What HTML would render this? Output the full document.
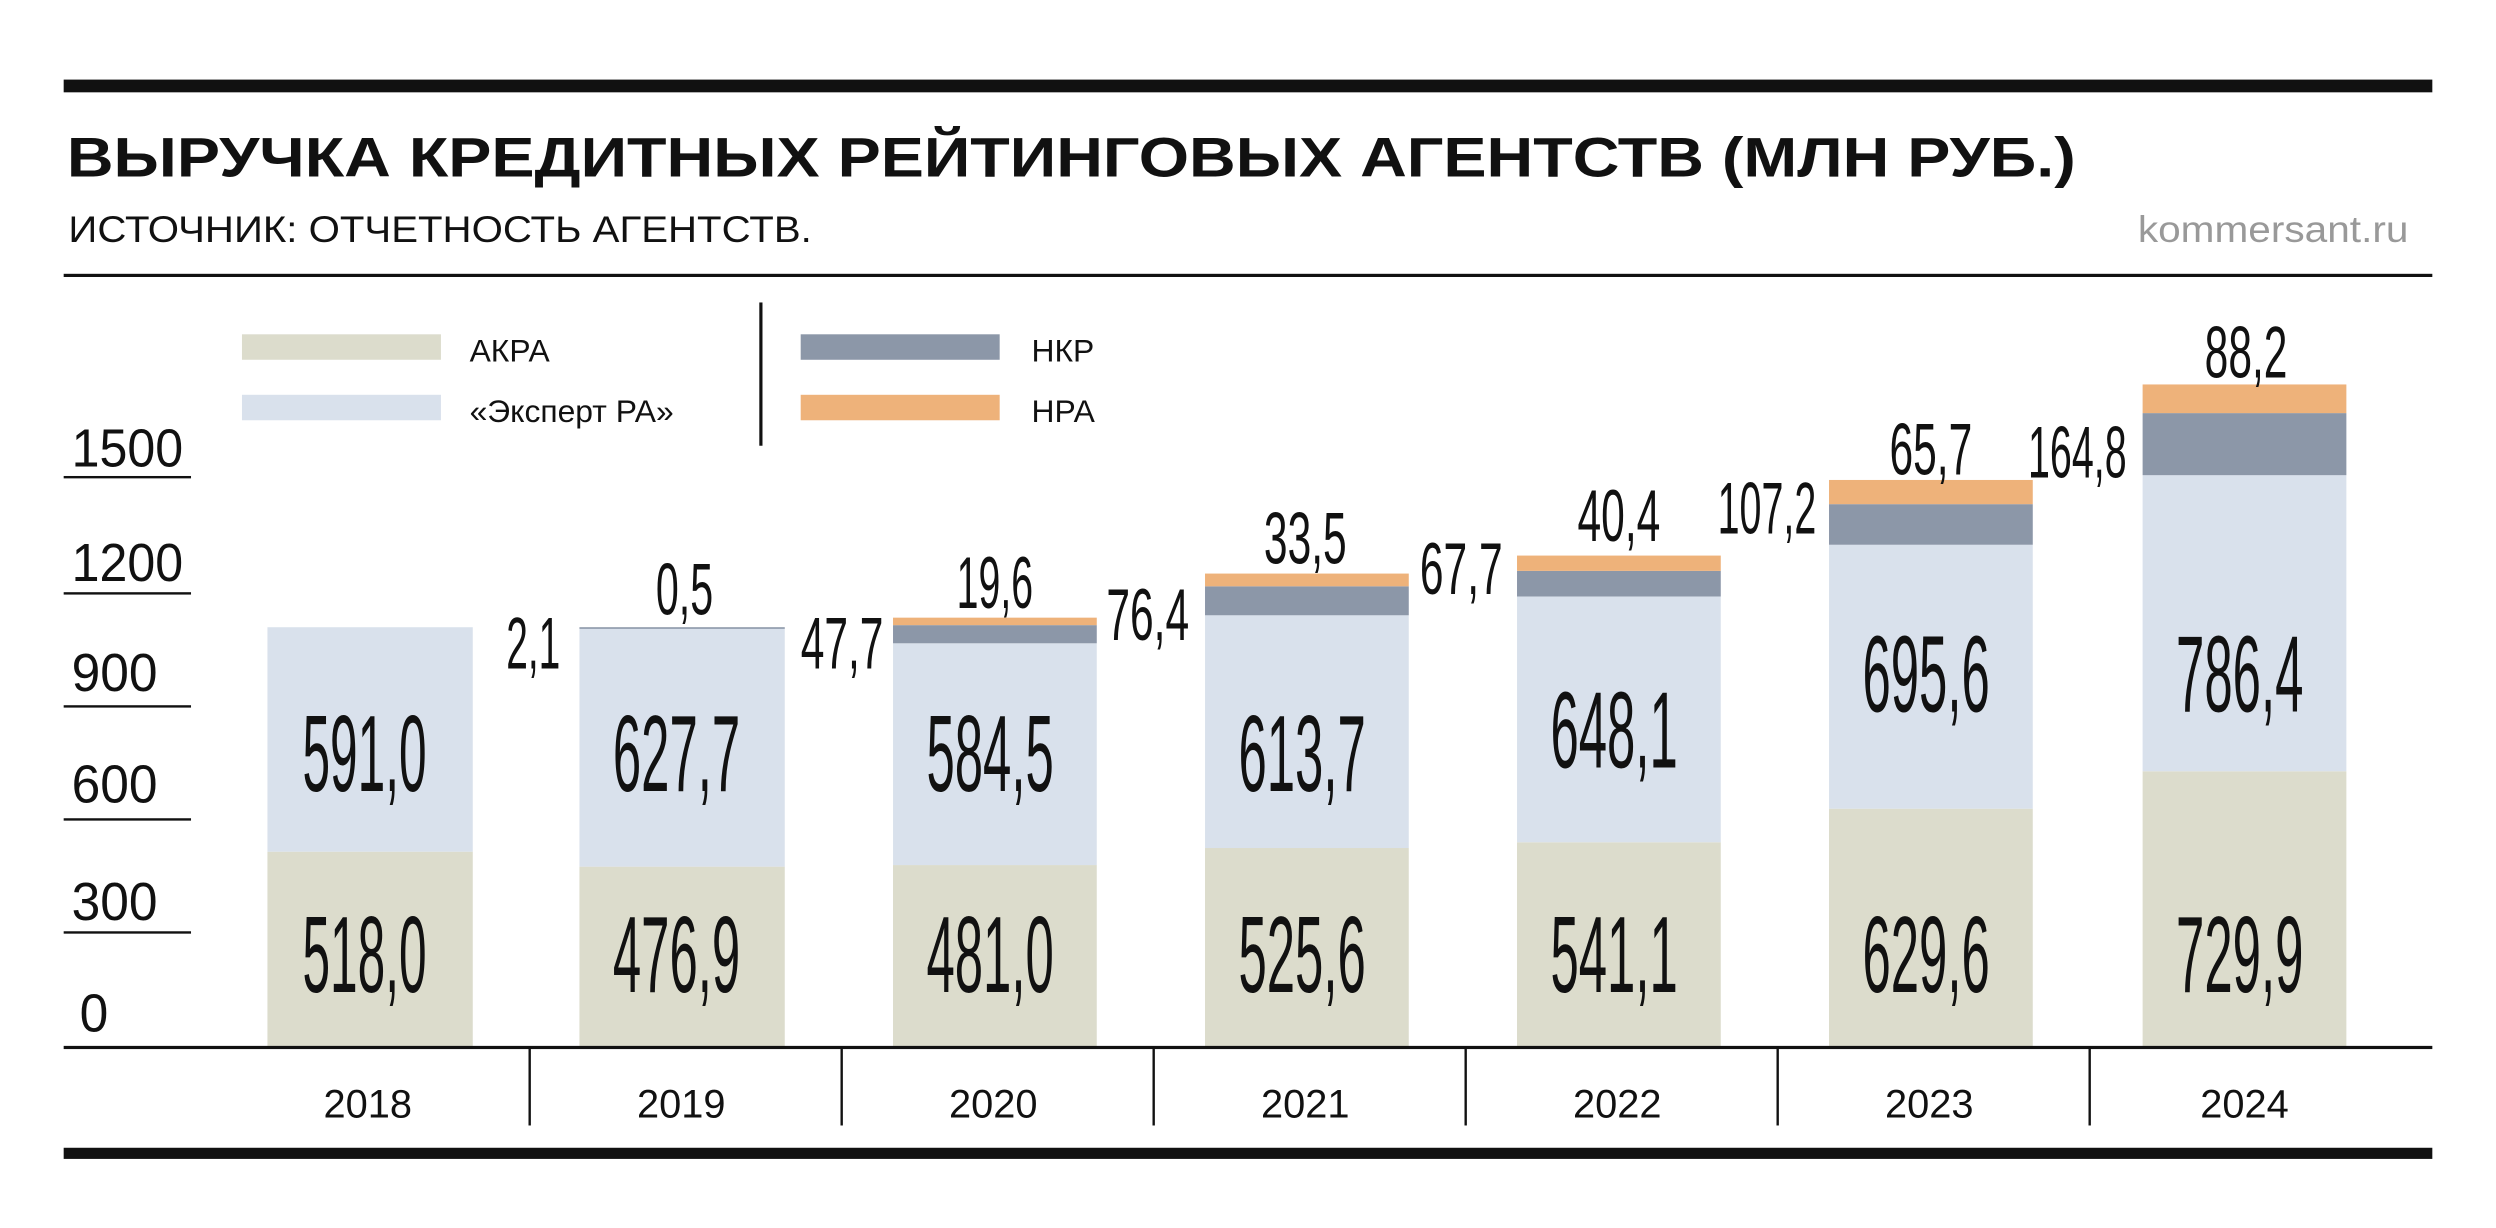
<!DOCTYPE html>
<html><head><meta charset="utf-8"><style>
html,body{margin:0;padding:0;background:#fff;}
svg{display:block;}
text{font-family:"Liberation Sans","DejaVu Sans",sans-serif;fill:#111;}
</style></head><body>
<svg width="2496" height="1228" viewBox="0 0 1568 771.4" preserveAspectRatio="none" xmlns="http://www.w3.org/2000/svg">
<rect x="0" y="0" width="1568" height="772" fill="#fff"/>
<rect x="40" y="50" width="1488" height="8" fill="#111"/>
<text x="42" y="111" font-size="35" font-weight="bold" textLength="1262" lengthAdjust="spacingAndGlyphs">ВЫРУЧКА КРЕДИТНЫХ РЕЙТИНГОВЫХ АГЕНТСТВ (МЛН РУБ.)</text>
<text x="43" y="152" font-size="23" textLength="467" lengthAdjust="spacingAndGlyphs">ИСТОЧНИК: ОТЧЕТНОСТЬ АГЕНТСТВ.</text>
<text x="1513" y="152" font-size="23" text-anchor="end" style="fill:#999" textLength="170" lengthAdjust="spacingAndGlyphs">kommersant.ru</text>
<rect x="40" y="172" width="1488" height="2" fill="#111"/>

<!-- legend -->
<rect x="152" y="210" width="125" height="16" fill="#dcdccc"/>
<text x="295" y="227" font-size="20">АКРА</text>
<rect x="152" y="248" width="125" height="16" fill="#d9e1ec"/>
<text x="295" y="265" font-size="20">«Эксперт РА»</text>
<rect x="477" y="190" width="2" height="90" fill="#111"/>
<rect x="503" y="210" width="125" height="16" fill="#8c97a8"/>
<text x="648" y="227" font-size="20">НКР</text>
<rect x="503" y="248" width="125" height="16" fill="#eeb27a"/>
<text x="648" y="265" font-size="20">НРА</text>

<!-- y axis -->
<g fill="#111">
<rect x="40" y="299" width="80" height="1.5"/>
<rect x="40" y="372" width="80" height="1.5"/>
<rect x="40" y="443" width="80" height="1.5"/>
<rect x="40" y="514" width="80" height="1.5"/>
<rect x="40" y="585" width="80" height="1.5"/>
</g>
<g font-size="34">
<text x="45" y="293" textLength="70" lengthAdjust="spacingAndGlyphs">1500</text>
<text x="45" y="365" textLength="70" lengthAdjust="spacingAndGlyphs">1200</text>
<text x="45" y="434" textLength="54" lengthAdjust="spacingAndGlyphs">900</text>
<text x="45" y="504" textLength="54" lengthAdjust="spacingAndGlyphs">600</text>
<text x="45" y="578" textLength="54" lengthAdjust="spacingAndGlyphs">300</text>
<text x="50" y="648" textLength="18" lengthAdjust="spacingAndGlyphs">0</text>
</g>

<!-- bars -->
<g>
<rect x="168" y="535" width="129" height="123" fill="#dcdccc"/>
<rect x="168" y="394" width="129" height="141" fill="#d9e1ec"/>

<rect x="364" y="544.4" width="129" height="113.6" fill="#dcdccc"/>
<rect x="364" y="394.8" width="129" height="149.6" fill="#d9e1ec"/>
<rect x="364" y="394" width="129" height="1" fill="#8c97a8"/>

<rect x="561" y="543.4" width="128" height="114.6" fill="#dcdccc"/>
<rect x="561" y="404.1" width="128" height="139.3" fill="#d9e1ec"/>
<rect x="561" y="392.7" width="128" height="11.4" fill="#8c97a8"/>
<rect x="561" y="388" width="128" height="4.7" fill="#eeb27a"/>

<rect x="757" y="532.7" width="128" height="125.3" fill="#dcdccc"/>
<rect x="757" y="386.5" width="128" height="146.2" fill="#d9e1ec"/>
<rect x="757" y="368.3" width="128" height="18.2" fill="#8c97a8"/>
<rect x="757" y="360.3" width="128" height="8" fill="#eeb27a"/>

<rect x="953" y="529.1" width="128" height="128.9" fill="#dcdccc"/>
<rect x="953" y="374.7" width="128" height="154.4" fill="#d9e1ec"/>
<rect x="953" y="358.6" width="128" height="16.1" fill="#8c97a8"/>
<rect x="953" y="349" width="128" height="9.6" fill="#eeb27a"/>

<rect x="1149" y="508" width="128" height="150" fill="#dcdccc"/>
<rect x="1149" y="342.2" width="128" height="165.8" fill="#d9e1ec"/>
<rect x="1149" y="316.7" width="128" height="25.5" fill="#8c97a8"/>
<rect x="1149" y="301.5" width="128" height="15.2" fill="#eeb27a"/>

<rect x="1346" y="484.5" width="128" height="173.5" fill="#dcdccc"/>
<rect x="1346" y="298.5" width="128" height="186" fill="#d9e1ec"/>
<rect x="1346" y="259.5" width="128" height="39" fill="#8c97a8"/>
<rect x="1346" y="241.5" width="128" height="18" fill="#eeb27a"/>
</g>

<!-- inner labels -->
<g font-size="68" text-anchor="middle">
<text x="229" y="497" textLength="78" lengthAdjust="spacingAndGlyphs">591,0</text>
<text x="229" y="623" textLength="78" lengthAdjust="spacingAndGlyphs">518,0</text>
<text x="425" y="497" textLength="80" lengthAdjust="spacingAndGlyphs">627,7</text>
<text x="425" y="623" textLength="80" lengthAdjust="spacingAndGlyphs">476,9</text>
<text x="622" y="497" textLength="80" lengthAdjust="spacingAndGlyphs">584,5</text>
<text x="622" y="623" textLength="80" lengthAdjust="spacingAndGlyphs">481,0</text>
<text x="818" y="497" textLength="80" lengthAdjust="spacingAndGlyphs">613,7</text>
<text x="818" y="623" textLength="80" lengthAdjust="spacingAndGlyphs">525,6</text>
<text x="1014" y="482" textLength="80" lengthAdjust="spacingAndGlyphs">648,1</text>
<text x="1014" y="623" textLength="80" lengthAdjust="spacingAndGlyphs">541,1</text>
<text x="1210" y="447" textLength="80" lengthAdjust="spacingAndGlyphs">695,6</text>
<text x="1210" y="623" textLength="80" lengthAdjust="spacingAndGlyphs">629,6</text>
<text x="1407" y="447" textLength="80" lengthAdjust="spacingAndGlyphs">786,4</text>
<text x="1407" y="623" textLength="80" lengthAdjust="spacingAndGlyphs">729,9</text>
</g>

<!-- outside labels -->
<g font-size="46" text-anchor="middle">
<text x="335" y="420" textLength="34" lengthAdjust="spacingAndGlyphs">2,1</text>
<text x="430" y="386" textLength="36" lengthAdjust="spacingAndGlyphs">0,5</text>
<text x="529" y="420" textLength="52" lengthAdjust="spacingAndGlyphs">47,7</text>
<text x="625" y="382" textLength="48" lengthAdjust="spacingAndGlyphs">19,6</text>
<text x="721" y="402" textLength="52" lengthAdjust="spacingAndGlyphs">76,4</text>
<text x="820" y="354" textLength="52" lengthAdjust="spacingAndGlyphs">33,5</text>
<text x="918" y="373" textLength="52" lengthAdjust="spacingAndGlyphs">67,7</text>
<text x="1017" y="340" textLength="52" lengthAdjust="spacingAndGlyphs">40,4</text>
<text x="1110" y="335" textLength="62" lengthAdjust="spacingAndGlyphs">107,2</text>
<text x="1213" y="298" textLength="52" lengthAdjust="spacingAndGlyphs">65,7</text>
<text x="1305" y="300" textLength="62" lengthAdjust="spacingAndGlyphs">164,8</text>
<text x="1411" y="237" textLength="52" lengthAdjust="spacingAndGlyphs">88,2</text>
</g>

<!-- x axis -->
<rect x="40" y="657" width="1488" height="2" fill="#111"/>
<g fill="#111">
<rect x="332" y="658" width="1.5" height="49"/>
<rect x="528" y="658" width="1.5" height="49"/>
<rect x="724" y="658" width="1.5" height="49"/>
<rect x="920" y="658" width="1.5" height="49"/>
<rect x="1116" y="658" width="1.5" height="49"/>
<rect x="1312" y="658" width="1.5" height="49"/>
</g>
<g font-size="25" text-anchor="middle">
<text x="231" y="702">2018</text>
<text x="428" y="702">2019</text>
<text x="624" y="702">2020</text>
<text x="820" y="702">2021</text>
<text x="1016" y="702">2022</text>
<text x="1212" y="702">2023</text>
<text x="1410" y="702">2024</text>
</g>
<rect x="40" y="721" width="1488" height="7" fill="#111"/>
</svg>
</body></html>
